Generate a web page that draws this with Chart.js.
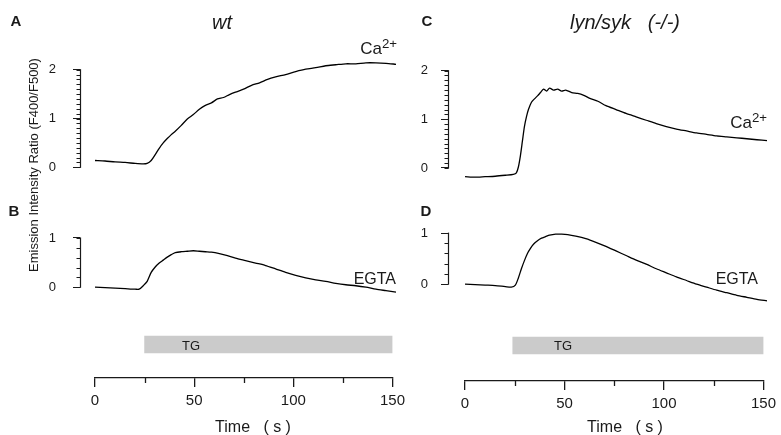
<!DOCTYPE html>
<html>
<head>
<meta charset="utf-8">
<script src="https://cdn.jsdelivr.net/npm/chart.js@4.4.1/dist/chart.umd.min.js"></script>
<style>
  html, body { margin:0; padding:0; background:#fff; width:781px; height:435px; overflow:hidden; }
  body { position:relative; font-family:'Liberation Sans', Arial, Helvetica, sans-serif; color:#1a1a1a; }
  canvas { position:absolute; }
  .t { position:absolute; white-space:pre; line-height:1; }
  .c { transform:translate(-50%,-50%); }
  .r { transform:translate(-100%,-50%); }
  .lt { font-weight:bold; font-size:15px; }
  sup { font-size:0.78em; vertical-align:0.45em; line-height:0; }
</style>
</head>
<body>
<script>
// ---------- DATA ----------
const tA = [0,5,10,15,20,24,26,28,30,32,34,36,38,40,43,46,49,52,55,58,61,64,67,70,74,78,82,86,90,95,100,105,110,115,120,125,130,135,140,145,150];
const vA = [0.14,0.13,0.11,0.10,0.08,0.07,0.08,0.14,0.26,0.39,0.50,0.59,0.67,0.74,0.86,0.99,1.08,1.19,1.27,1.32,1.40,1.43,1.49,1.54,1.60,1.68,1.73,1.80,1.85,1.90,1.96,2.01,2.04,2.08,2.10,2.12,2.12,2.14,2.14,2.13,2.11];

const tB = [0,5,10,15,20,22,24,26,28,30,32,34,36,38,40,43,46,49,52,55,58,62,66,70,75,80,85,90,95,100,105,110,115,120,125,130,135,140,145,150];
const vB = [0.00,-0.01,-0.02,-0.03,-0.04,-0.04,0.03,0.12,0.30,0.41,0.49,0.55,0.61,0.66,0.70,0.72,0.73,0.74,0.73,0.72,0.71,0.68,0.64,0.59,0.54,0.49,0.44,0.37,0.30,0.24,0.19,0.15,0.12,0.08,0.05,0.03,0.00,-0.04,-0.07,-0.10];

const tC = [0,5,10,15,20,24,25.5,26.5,27.5,28.5,29.5,30.5,31.5,33,34.5,36,37.5,39,40.5,42,44,46,48,50,53,56,59,62,66,70,75,80,85,90,95,100,105,110,115,120,125,130,135,140,145,150];
const vC = [-0.18,-0.19,-0.18,-0.17,-0.15,-0.13,-0.10,0.02,0.25,0.55,0.85,1.05,1.20,1.35,1.42,1.48,1.55,1.62,1.58,1.64,1.60,1.62,1.58,1.60,1.55,1.53,1.49,1.43,1.37,1.28,1.20,1.12,1.05,0.98,0.91,0.85,0.80,0.76,0.72,0.69,0.66,0.64,0.62,0.60,0.58,0.56];

const tD = [0,5,10,15,20,23,25,26.5,28,29.5,31,32.5,34,36,38,40,42,45,48,51,55,60,65,70,75,80,85,90,95,100,105,110,115,120,125,130,135,140,145,150];
const vD = [0.00,-0.01,-0.02,-0.03,-0.05,-0.06,-0.02,0.12,0.30,0.46,0.60,0.70,0.78,0.85,0.90,0.93,0.96,0.98,0.98,0.97,0.94,0.89,0.82,0.74,0.65,0.56,0.47,0.39,0.30,0.22,0.14,0.07,0.00,-0.06,-0.12,-0.17,-0.22,-0.26,-0.30,-0.33];

const ticksCa = [0, 1, 2];
const ticksEGTA = [0, 1];
const timeTicks = [0, 50, 100, 150];
const timeMinor = [25, 75, 125];
const tgLeft = [25, 150];
const tgRight = [24, 150];

// ---------- SETUP ----------
Chart.defaults.font.family = "'Liberation Sans', Arial, Helvetica, sans-serif";
Chart.defaults.color = '#1a1a1a';
const INK = '#1a1a1a';

const decoPlugin = {
  id: 'deco',
  afterDraw(chart, args, o) {
    const ctx = chart.ctx;
    ctx.save();
    ctx.strokeStyle = INK;
    if (o.yLine) {
      const s = chart.scales.y;
      const x = Math.round(chart.chartArea.left) + 0.5;
      const y1 = s.getPixelForValue(o.yLine[0]), y2 = s.getPixelForValue(o.yLine[1]);
      ctx.lineWidth = 1.2;
      ctx.beginPath(); ctx.moveTo(x, y1 + 0.5); ctx.lineTo(x, y2 - 0.5); ctx.stroke();
      ctx.lineWidth = 1;
      for (let v = o.yLine[0]; v <= o.yLine[1] + 1e-9; v += o.yStep) {
        const y = Math.round(s.getPixelForValue(v)) + 0.5;
        ctx.beginPath(); ctx.moveTo(x, y); ctx.lineTo(x - 4, y); ctx.stroke();
      }
    }
    if (o.xMinor) {
      const s = chart.scales.x;
      const y = chart.chartArea.bottom;
      ctx.lineWidth = 1.3;
      o.xMinor.forEach(v => {
        const x = Math.round(s.getPixelForValue(v)) + 0.5;
        ctx.beginPath(); ctx.moveTo(x, y); ctx.lineTo(x, y + 5); ctx.stroke();
      });
    }
    ctx.restore();
  }
};

function addCanvas(left, top, w, h) {
  const c = document.createElement('canvas');
  c.width = Math.round(w); c.height = Math.round(h);
  c.style.left = Math.round(left) + 'px'; c.style.top = Math.round(top) + 'px';
  c.style.width = Math.round(w) + 'px'; c.style.height = Math.round(h) + 'px';
  document.body.appendChild(c);
  return c.getContext('2d');
}

const colL = { canvasLeft: 0, axisX: 80, x0: 95, kx: 2.005 };
const colR = { canvasLeft: 380, axisX: 448, x0: 465, kx: 2.01 };

function panel(col, y0, k, ymin, ymax, majors, step, line, ts, vs) {
  const pad = 32, padR = 5;
  const top = Math.round(y0 - ymax * k - pad);
  const h = Math.round((ymax - ymin) * k + 2 * pad);
  const right = col.x0 + 150 * col.kx;
  const w = right + padR - col.canvasLeft;
  const ctx = addCanvas(col.canvasLeft, top, w, h);
  new Chart(ctx, {
    type: 'line',
    data: { datasets: [{
      data: ts.map((t, i) => ({ x: t, y: vs[i] })),
      borderColor: '#000', borderWidth: 1.3, pointRadius: 0, tension: 0.25, clip: false
    }] },
    options: {
      responsive: false, animation: false, devicePixelRatio: 1,
      layout: { padding: { top: pad, bottom: pad, left: 0, right: padR } },
      plugins: { legend: { display: false }, tooltip: { enabled: false },
        deco: { yLine: line, yStep: step } },
      scales: {
        x: { type: 'linear', min: -(col.x0 - col.axisX) / col.kx, max: 150, display: false },
        y: {
          min: ymin, max: ymax,
          afterBuildTicks: s => { s.ticks = majors.map(v => ({ value: v })); },
          afterFit: s => { s.width = col.axisX - col.canvasLeft; },
          border: { display: false },
          grid: { drawOnChartArea: false, drawTicks: true, tickLength: 7, color: INK, lineWidth: 1 },
          ticks: { padding: col === colL ? 17 : 13, font: { size: 13 }, color: INK, callback: v => String(v) }
        }
      }
    },
    plugins: [decoPlugin]
  });
}

panel(colL, 167.5, 48.8, -0.3, 2.3, ticksCa, 0.1, [0, 2], tA, vA);
panel(colL, 287, 49, -0.3, 1.1, ticksEGTA, 0.2, [0, 1], tB, vB);
panel(colR, 168, 48.8, -0.35, 2.3, ticksCa, 0.1, [0, 2], tC, vC);
panel(colR, 284, 51, -0.45, 1.1, ticksEGTA, 0.2, [0, 1], tD, vD);

function timeAxis(col, axisY, barCenter, tg) {
  const padL = 15, padR = 14, axisH = 45;
  const top = 2 * barCenter - axisY;
  const h = axisY - top + axisH;
  const left = col.x0 - padL;
  const w = col.x0 + 150 * col.kx + padR - left;
  const ctx = addCanvas(left, top, w, h);
  new Chart(ctx, {
    type: 'bar',
    data: { labels: ['TG'], datasets: [{ data: [tg], backgroundColor: '#cbcbcb', barThickness: 17, borderWidth: 0 }] },
    options: {
      indexAxis: 'y', responsive: false, animation: false, devicePixelRatio: 1,
      layout: { padding: { top: 0, bottom: 0, left: padL, right: padR } },
      plugins: { legend: { display: false }, tooltip: { enabled: false }, deco: { xMinor: timeMinor } },
      scales: {
        y: { type: 'category', display: false },
        x: {
          type: 'linear', min: 0, max: 150, position: 'bottom',
          afterBuildTicks: s => { s.ticks = timeTicks.map(v => ({ value: v })); },
          afterFit: s => { s.height = axisH; },
          border: { display: true, color: INK, width: 1.3 },
          grid: { drawOnChartArea: false, drawTicks: true, tickLength: 9, color: INK, lineWidth: 1.3 },
          ticks: { padding: 5, font: { size: 15 }, color: INK, maxRotation: 0, callback: v => String(v) }
        }
      }
    },
    plugins: [decoPlugin]
  });
}

timeAxis(colL, 378, 344.5, tgLeft);
timeAxis(colR, 380.5, 345, tgRight);

// ---------- TEXT ----------
function txt(html, x, y, cls, style) {
  const d = document.createElement('div');
  d.className = 't ' + cls;
  d.innerHTML = html;
  d.style.left = x + 'px'; d.style.top = y + 'px';
  if (style) d.style.cssText += style;
  document.body.appendChild(d);
}
txt('A', 16, 20, 'c lt');
txt('B', 14, 210, 'c lt');
txt('C', 427, 20, 'c lt');
txt('D', 426, 210, 'c lt');
txt('wt', 222, 22, 'c', 'font-style:italic;font-size:20px;');
txt('lyn/syk   (-/-)', 625, 22, 'c', 'font-style:italic;font-size:20px;');
txt('Ca<sup>2+</sup>', 397, 48, 'r', 'font-size:17px;');
txt('Ca<sup>2+</sup>', 767, 122, 'r', 'font-size:17px;');
txt('EGTA', 396, 279, 'r', 'font-size:16px;');
txt('EGTA', 758, 279, 'r', 'font-size:16px;');
txt('TG', 191, 344.5, 'c', 'font-size:13px;');
txt('TG', 563, 344.5, 'c', 'font-size:13px;');
txt('Time   ( s )', 253, 427, 'c', 'font-size:16px;');
txt('Time   ( s )', 625, 427, 'c', 'font-size:16px;');
txt('Emission Intensity Ratio (F400/F500)', 33, 165, 'c', 'font-size:13px;transform:translate(-50%,-50%) rotate(-90deg);');
</script>
</body>
</html>
